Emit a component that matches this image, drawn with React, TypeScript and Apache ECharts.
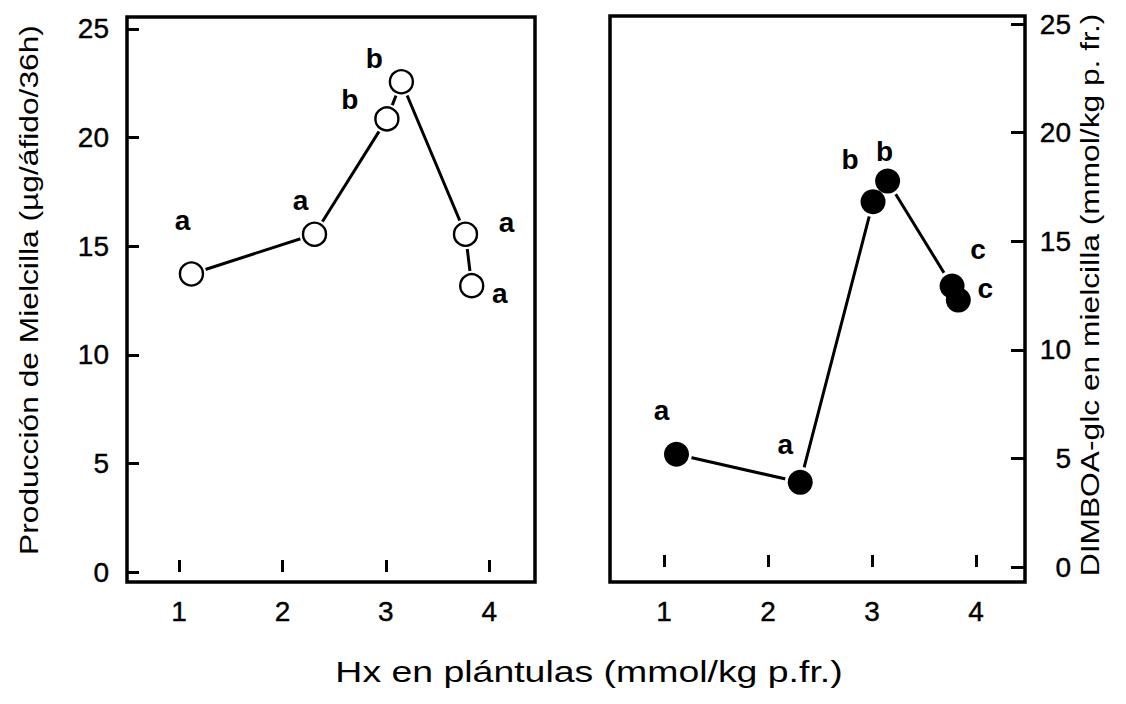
import { useEffect, useRef } from "react";
import * as echarts from "echarts";

// Hx content of seedlings (mmol/kg fresh weight), shared by both panels
const hx = [1.12, 2.31, 3.01, 3.15, 3.77, 3.83];
// Honeydew production (µg/aphid/36h)
const honeydew = [13.72, 15.55, 20.86, 22.57, 15.55, 13.18];
// DIMBOA-glc in honeydew (mmol/kg fresh weight)
const dimboa = [5.19, 3.9, 16.82, 17.77, 12.94, 12.29];
// Significance groups
const honeydewGroups = ["a", "a", "b", "b", "a", "a"];
const dimboaGroups = ["a", "a", "b", "b", "c", "c"];
// Tick values
const xTicks = [1, 2, 3, 4];
const yTicks = [0, 5, 10, 15, 20, 25];

// Placement of the group letters around each point (px)
const honeydewLabelOffsets = [
  [-9, -53],
  [-14, -34],
  [-37, -19],
  [-27, -23],
  [41, -12],
  [28, 8],
];
const dimboaLabelOffsets = [
  [-15, -44],
  [-15, -38],
  [-23, -42],
  [-3, -30],
  [26, -36],
  [27, -12],
];

const FONT = '"Liberation Sans", Arial, Helvetica, sans-serif';

function pairs(ys: number[]) {
  return hx.map((x, i) => [x, ys[i]]);
}

function labelled(ys: number[], groups: string[], offsets: number[][]) {
  return hx.map((x, i) => ({
    value: [x, ys[i]],
    label: { show: true, formatter: groups[i], offset: offsets[i] },
  }));
}

const tickStyle = { color: "#000", width: 3 };

const tickText = {
  fontSize: 28,
  color: "#000",
  fontFamily: FONT,
  textBorderColor: "#000",
  textBorderWidth: 0.4,
};

function xAxisFor(gridIndex: number, min: number, max: number) {
  return {
    gridIndex,
    type: "value",
    min,
    max,
    axisLine: { show: false },
    splitLine: { show: false },
    axisTick: {
      show: true,
      inside: true,
      length: 12,
      lineStyle: tickStyle,
      customValues: xTicks,
    },
    axisLabel: {
      ...tickText,
      customValues: xTicks,
      margin: 15,
    },
  };
}

function title(text: string, x: number, y: number, size: number, stretch: number, vertical: boolean) {
  return {
    type: "text",
    x,
    y,
    rotation: vertical ? Math.PI / 2 : 0,
    scaleX: stretch,
    style: {
      text,
      font: `${size}px ${FONT}`,
      fill: "#000",
      textAlign: "center",
      textVerticalAlign: "middle",
      align: "center",
      verticalAlign: "middle",
    },
  };
}

export default function App() {
  const ref = useRef<HTMLDivElement>(null);

  useEffect(() => {
    if (!ref.current) return;
    const chart = echarts.init(ref.current, undefined, { renderer: "svg" });

    const letterLabel = {
      show: true,
      position: "inside",
      fontSize: 28,
      fontWeight: "bold",
      fontFamily: FONT,
      color: "#000",
      opacity: 1,
      textBorderWidth: 0,
    };

    chart.setOption({
      animation: false,
      backgroundColor: "#fff",
      grid: [
        {
          left: 127,
          top: 17,
          width: 408,
          height: 565,
          show: true,
          borderColor: "#000",
          borderWidth: 3.5,
        },
        {
          left: 610,
          top: 16,
          width: 415,
          height: 566,
          show: true,
          borderColor: "#000",
          borderWidth: 3.5,
        },
      ],
      xAxis: [xAxisFor(0, 0.497, 4.442), xAxisFor(1, 0.481, 4.471)],
      yAxis: [
        {
          gridIndex: 0,
          type: "value",
          position: "left",
          min: -0.46,
          max: 25.55,
          axisLine: { show: false },
          splitLine: { show: false },
          axisTick: {
            show: true,
            inside: true,
            length: 12,
            lineStyle: tickStyle,
            customValues: yTicks,
          },
          axisLabel: {
            ...tickText,
            customValues: yTicks,
            margin: 18,
          },
        },
        {
          gridIndex: 1,
          type: "value",
          position: "right",
          min: -0.69,
          max: 25.37,
          axisLine: { show: false },
          splitLine: { show: false },
          axisTick: {
            show: true,
            inside: true,
            length: 14,
            lineStyle: tickStyle,
            customValues: yTicks,
          },
          axisLabel: {
            ...tickText,
            customValues: yTicks,
            align: "right",
            margin: 46,
          },
        },
      ],
      series: [
        // Left panel: honeydew production
        {
          type: "line",
          xAxisIndex: 0,
          yAxisIndex: 0,
          data: pairs(honeydew),
          showSymbol: false,
          lineStyle: { color: "#000", width: 3 },
          silent: true,
          z: 2,
        },
        {
          type: "scatter",
          xAxisIndex: 0,
          yAxisIndex: 0,
          data: pairs(honeydew),
          symbolSize: 30,
          itemStyle: { color: "#fff", opacity: 1 },
          silent: true,
          z: 3,
        },
        {
          type: "scatter",
          xAxisIndex: 0,
          yAxisIndex: 0,
          data: labelled(honeydew, honeydewGroups, honeydewLabelOffsets),
          symbolSize: 23,
          itemStyle: {
            color: "#fff",
            borderColor: "#000",
            borderWidth: 2.4,
            opacity: 1,
          },
          label: letterLabel,
          silent: true,
          z: 4,
        },
        // Right panel: DIMBOA-glc in honeydew
        {
          type: "line",
          xAxisIndex: 1,
          yAxisIndex: 1,
          data: pairs(dimboa),
          showSymbol: false,
          lineStyle: { color: "#000", width: 3 },
          silent: true,
          z: 2,
        },
        {
          type: "scatter",
          xAxisIndex: 1,
          yAxisIndex: 1,
          data: pairs(dimboa),
          symbolSize: 31,
          itemStyle: { color: "#fff", opacity: 1 },
          silent: true,
          z: 3,
        },
        {
          type: "scatter",
          xAxisIndex: 1,
          yAxisIndex: 1,
          data: labelled(dimboa, dimboaGroups, dimboaLabelOffsets),
          symbolSize: 25,
          itemStyle: { color: "#000", opacity: 1 },
          label: letterLabel,
          silent: true,
          z: 4,
        },
      ],
      graphic: [
        title("Producción de Mielcilla (µg/áfido/36h)", 29, 290, 25, 1.27, true),
        title("DIMBOA-glc en mielcilla (mmol/kg p. fr.)", 1090, 295, 25, 1.27, true),
        title("Hx en plántulas (mmol/kg p.fr.)", 589, 672, 29, 1.29, false),
      ],
    });

    return () => chart.dispose();
  }, []);

  return (
    <div
      ref={ref}
      style={{ position: "absolute", left: 0, top: 0, width: 1126, height: 704 }}
    />
  );
}
